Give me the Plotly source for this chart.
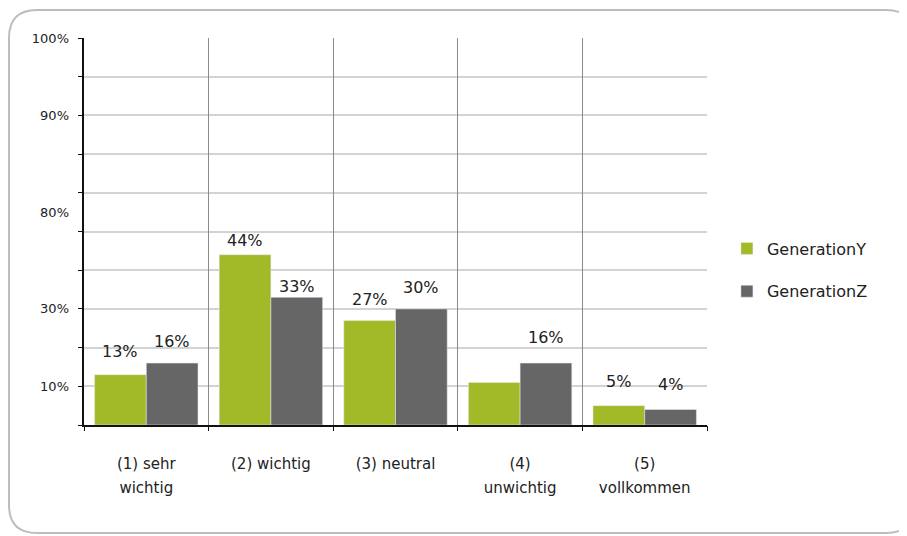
import plotly.graph_objects as go

categories = ["(1) sehr wichtig", "(2) wichtig", "(3) neutral", "(4) unwichtig", "(5) vollkommen"]
label_line1 = ["(1) sehr", "(2) wichtig", "(3) neutral", "(4)", "(5)"]
label_line2 = ["wichtig", "", "", "unwichtig", "vollkommen"]
gen_y = [13, 44, 27, 11, 5]
gen_z = [16, 33, 30, 16, 4]
gen_y_labels = ["13%", "44%", "27%", "", "5%"]
gen_z_labels = ["16%", "33%", "30%", "16%", "4%"]
series_names = ["GenerationY", "GenerationZ"]
ytick_vals = [10, 30, 55, 80, 100]
ytick_text = ["10%", "30%", "80%", "90%", "100%"]

# label placement (style): pixel lift above each bar top
gen_y_lift = [12, 3, 10, 12, 13]
gen_z_lift = [10, -1, 10, 14, 14]

GREEN = "#a2b928"
GRAY = "#666666"
FONT = "DejaVu Sans"
TXT = "#222222"
BARGAP = 0.17

idx = list(range(len(categories)))

fig = go.Figure()
fig.add_trace(go.Bar(x=idx, y=gen_y, name=series_names[0], marker_color=GREEN,
                     legendgroup="a", hovertext=categories))
fig.add_trace(go.Bar(x=idx, y=gen_z, name=series_names[1], marker_color=GRAY,
                     legendgroup="b", hovertext=categories))
# invisible helper traces carrying the secondary axes
fig.add_trace(go.Scatter(x=[0], y=[0], xaxis="x2", yaxis="y2", mode="markers",
                         marker=dict(opacity=0), showlegend=False, hoverinfo="skip"))
fig.add_trace(go.Scatter(x=[0], y=[0], xaxis="x3", yaxis="y", mode="markers",
                         marker=dict(opacity=0), showlegend=False, hoverinfo="skip"))

# value labels above bars, anchored in data coordinates
half = (1 - BARGAP) / 4
annotations = []
for i in idx:
    for off, vals, labs, lift in ((-half, gen_y, gen_y_labels, gen_y_lift),
                                  (half, gen_z, gen_z_labels, gen_z_lift)):
        if labs[i]:
            annotations.append(dict(x=i + off, y=vals[i], xref="x", yref="y", text=labs[i],
                                    showarrow=False, yanchor="bottom", yshift=lift[i],
                                    font=dict(size=16, color=TXT)))

# page has an 8px body margin; figure coordinates are offset accordingly
W, H = 899, 528
L, T = 76, 30
R = W - 699
B = H - 417
pw, ph = W - L - R, H - T - B

def px(x):
    return (x - 8 - L) / pw

def py(y):
    return (H - B - (y - 8)) / ph

x0, x1, y0, y1 = 9, 914, 10, 533
r = 28
path = (f"M {px(x0 + r)} {py(y0)} L {px(x1 - r)} {py(y0)} "
        f"Q {px(x1)} {py(y0)} {px(x1)} {py(y0 + r)} "
        f"L {px(x1)} {py(y1 - r)} Q {px(x1)} {py(y1)} {px(x1 - r)} {py(y1)} "
        f"L {px(x0 + r)} {py(y1)} Q {px(x0)} {py(y1)} {px(x0)} {py(y1 - r)} "
        f"L {px(x0)} {py(y0 + r)} Q {px(x0)} {py(y0)} {px(x0 + r)} {py(y0)} Z")

xr = [-0.5, len(categories) - 0.5]
bounds = [i - 0.5 for i in idx] + [xr[1]]

fig.update_layout(
    width=W, height=H,
    margin=dict(l=L, r=R, t=T, b=B),
    paper_bgcolor="white", plot_bgcolor="white",
    font=dict(family=FONT, size=15, color=TXT),
    barmode="group", bargap=BARGAP, bargroupgap=0,
    showlegend=True,
    legend=dict(x=1.032, y=0.50, yanchor="top", xanchor="left",
                font=dict(size=16, color=TXT), tracegroupgap=19,
                traceorder="grouped", bgcolor="rgba(0,0,0,0)"),
    xaxis=dict(type="linear", range=xr, tickvals=idx, ticktext=label_line1,
               showgrid=False, showline=True, linecolor="#111", linewidth=1.5,
               ticks="", ticklabelstandoff=24,
               tickfont=dict(size=15, color=TXT), fixedrange=True, zeroline=False),
    xaxis2=dict(type="linear", range=xr, overlaying="x", anchor="y", side="bottom",
                tickvals=bounds + idx,
                ticktext=[""] * len(bounds) + label_line2,
                showgrid=False, showline=False, ticks="", ticklabelstandoff=52,
                tickfont=dict(size=15, color=TXT), zeroline=False),
    xaxis3=dict(type="linear", range=xr, overlaying="x", anchor="y", side="bottom",
                tickvals=bounds, ticktext=[""] * len(bounds),
                showgrid=True, gridcolor="#8a8a8a", gridwidth=1,
                ticks="outside", ticklen=5, tickcolor="#111", showline=False, zeroline=False),
    yaxis=dict(range=[0, 100], tickvals=list(range(0, 101, 10)),
               ticktext=[""] * 11, showgrid=True, gridcolor="#d3d3d3", gridwidth=2,
               showline=True, linecolor="#111", linewidth=1.5,
               ticks="outside", ticklen=4, tickcolor="#111", zeroline=False),
    yaxis2=dict(range=[0, 100], overlaying="y", side="left", anchor="x", tickvals=ytick_vals,
                ticktext=ytick_text, showgrid=False, showline=False, ticks="",
                zeroline=False, tickfont=dict(size=13, color=TXT), ticklabelstandoff=14),
    shapes=[dict(type="path", xref="paper", yref="paper", path=path,
                 line=dict(color="#bdbdbd", width=2), fillcolor="rgba(0,0,0,0)", layer="below")],
    annotations=annotations,
)

fig.write_html("out.html")
